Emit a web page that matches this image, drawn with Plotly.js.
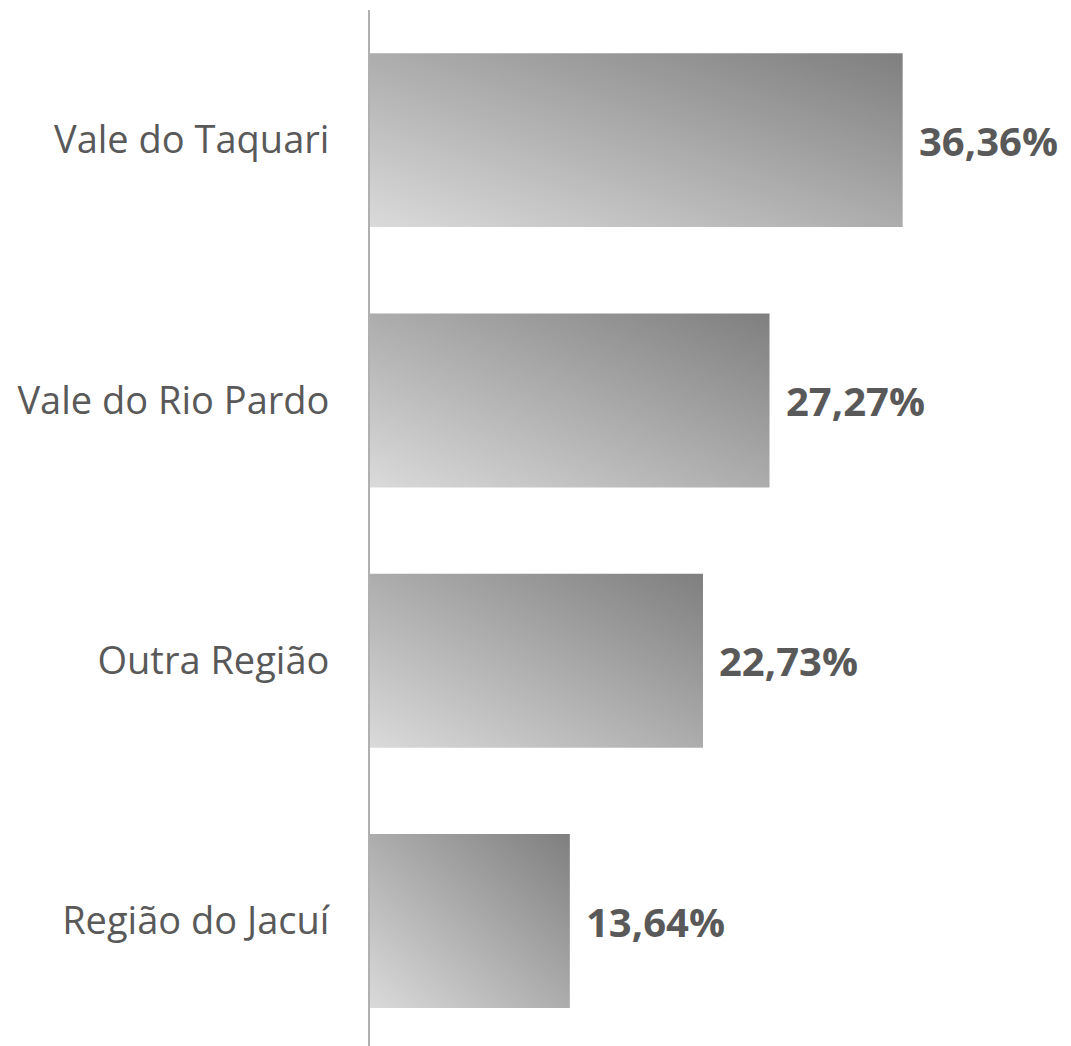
<!DOCTYPE html>
<html>
<head>
<meta charset="utf-8">
<script src="https://cdn.plot.ly/plotly-3.0.1.min.js"></script>
<style>html,body{margin:0;padding:0;background:#fff;}#chart{width:1071px;height:1046px;}</style>
</head>
<body>
<div id="chart"></div>
<script>
const categories = ['Vale do Taquari', 'Vale do Rio Pardo', 'Outra Região', 'Região do Jacuí'];
const values = [36.36, 27.27, 22.73, 13.64];
const valueLabels = ['36,36%', '27,27%', '22,73%', '13,64%'];

const FONT = '"Open Sans", "DejaVu Sans", sans-serif';

const trace = {
  type: 'bar',
  orientation: 'h',
  y: categories,
  x: values,
  marker: {color: '#aaaaaa', line: {width: 0}},
  hoverinfo: 'none'
};

const annotations = categories.map((c, i) => ({
  x: values[i], y: c, xref: 'x', yref: 'y',
  text: '<b>' + valueLabels[i] + '</b>',
  showarrow: false, xanchor: 'left', yanchor: 'middle',
  xshift: 14,
  font: {family: FONT, size: 40, color: '#595959'}
}));

const layout = {
  width: 1071, height: 1046,
  margin: {l: 370, r: 0, t: 10, b: 0},
  paper_bgcolor: '#ffffff', plot_bgcolor: '#ffffff',
  showlegend: false,
  bargap: 0.332,
  xaxis: {range: [0, 47.85], visible: false, fixedrange: true},
  yaxis: {
    type: 'category', categoryorder: 'array', categoryarray: categories,
    range: [3.48, -0.5],
    showline: true, linecolor: '#b0b0b0', linewidth: 2,
    showgrid: false, zeroline: false,
    ticks: 'outside', ticklen: 31, tickcolor: 'rgba(0,0,0,0)',
    tickfont: {family: FONT, size: 38, color: '#595959'},
    fixedrange: true
  },
  annotations: annotations,
  font: {family: FONT}
};

Plotly.newPlot('chart', [trace], layout, {displayModeBar: false, staticPlot: true}).then(function (gd) {
  const svg = gd.querySelector('svg.main-svg');
  const ns = 'http://www.w3.org/2000/svg';
  let defs = svg.querySelector('defs');
  if (!defs) { defs = document.createElementNS(ns, 'defs'); svg.insertBefore(defs, svg.firstChild); }
  const grad = document.createElementNS(ns, 'linearGradient');
  grad.setAttribute('id', 'barGrad');
  grad.setAttribute('x1', '0'); grad.setAttribute('y1', '1');
  grad.setAttribute('x2', '1'); grad.setAttribute('y2', '0');
  const s1 = document.createElementNS(ns, 'stop');
  s1.setAttribute('offset', '0'); s1.setAttribute('stop-color', '#dadada');
  const s2 = document.createElementNS(ns, 'stop');
  s2.setAttribute('offset', '1'); s2.setAttribute('stop-color', '#7f7f7f');
  grad.appendChild(s1); grad.appendChild(s2);
  defs.appendChild(grad);
  gd.querySelectorAll('.barlayer .point path').forEach(function (p) {
    p.style.fill = 'url(#barGrad)';
    p.style.fillOpacity = '1';
  });
});
</script>
</body>
</html>
